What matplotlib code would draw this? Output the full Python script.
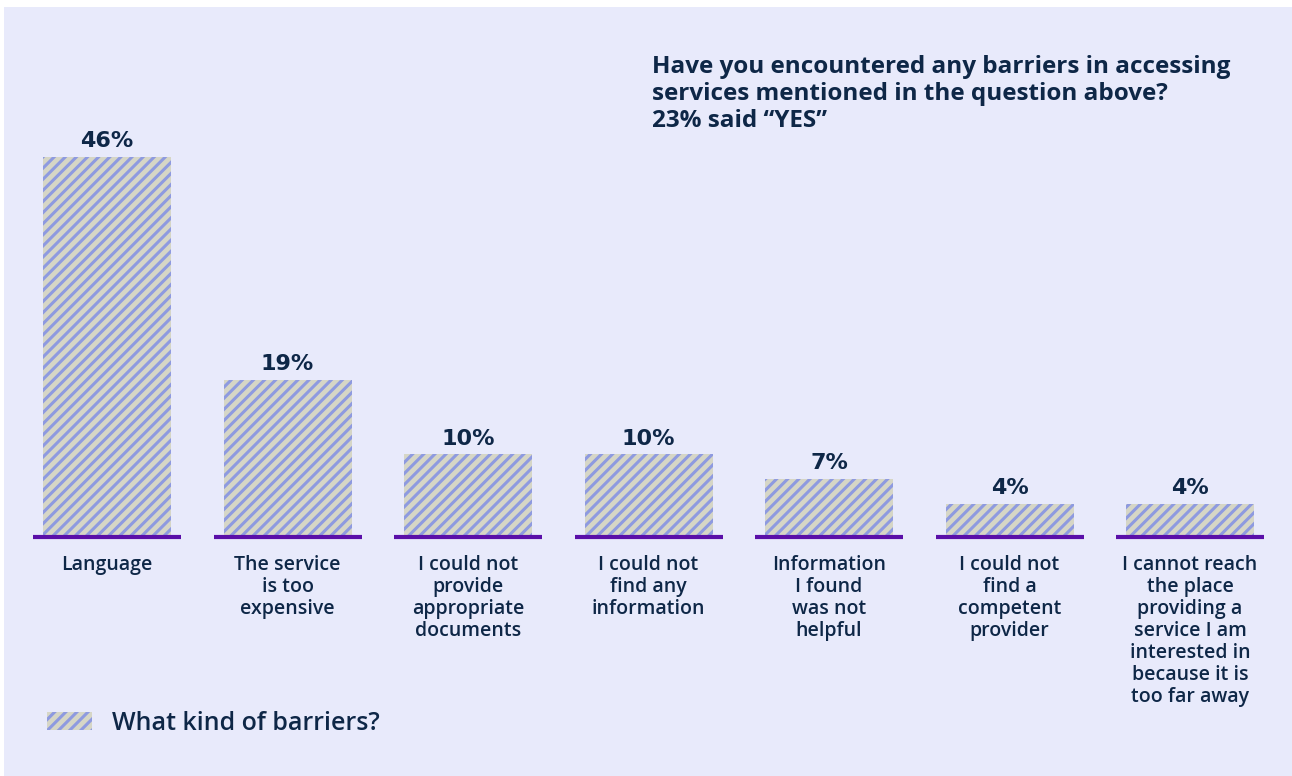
import matplotlib
matplotlib.use("Agg")
import matplotlib.pyplot as plt
from matplotlib.patches import Rectangle

# ----------------- Data -----------------
categories = [
    "Language",
    "The service\nis too\nexpensive",
    "I could not\nprovide\nappropriate\ndocuments",
    "I could not\nfind any\ninformation",
    "Information\nI found\nwas not\nhelpful",
    "I could not\nfind a\ncompetent\nprovider",
    "I cannot reach\nthe place\nproviding a\nservice I am\ninterested in\nbecause it is\ntoo far away",
]
values = [46, 19, 10, 10, 7, 4, 4]
series_name = "What kind of barriers?"
title_lines = [
    "Have you encountered any barriers in accessing",
    "services mentioned in the question above?",
    "23% said \u201cYES\u201d",
]

# ----------------- Style -----------------
BG = "#e8eafb"
BLUE = "#8e9ae0"
BEIGE = "#d6d6c6"
PURPLE = "#5a0fa8"
NAVY = "#0e2747"
W, H, DPI = 1292, 776, 100

plt.rcParams["hatch.linewidth"] = 2.2
plt.rcParams["font.family"] = ["Open Sans", "DejaVu Sans"]

fig = plt.figure(figsize=(W / DPI, H / DPI), dpi=DPI, facecolor="white")
fig.patches.append(Rectangle((4 / W, 0), 1 - 4 / W, 1 - 7 / H,
                             transform=fig.transFigure, facecolor=BG,
                             edgecolor="none", zorder=-10))

# axes cover the whole figure; data coords map to pixels
ax = fig.add_axes([0, 0, 1, 1])
ax.set_facecolor("none")
step = 180.5
x0 = 107
base = 537
scale = 380 / 46
ax.set_xlim(-x0 / step, (W - x0) / step)
ax.set_ylim(-(H - base) / scale, base / scale)
ax.axis("off")

x = list(range(len(values)))
bars = ax.bar(x, values, width=128 / step, color=BEIGE, edgecolor=BLUE,
              hatch="///", linewidth=0, label=series_name, zorder=2)

for i, v in zip(x, values):
    ax.plot([i - 74 / step, i + 74 / step], [0, 0], color=PURPLE, lw=3,
            solid_capstyle="butt", zorder=3)
    ax.annotate(f"{v}%", (i, v), xytext=(0, 7), textcoords="offset points",
                ha="center", va="baseline", fontsize=16, fontweight="bold",
                family="DejaVu Sans", color=NAVY)
    ax.annotate(categories[i], (i, 0), xytext=(0, -13),
                textcoords="offset points", ha="center", va="top",
                fontsize=14, fontweight="semibold", color=NAVY,
                linespacing=1.13)

fig.text(652 / W, 1 - 55 / H, "\n".join(title_lines), ha="left", va="top",
         fontsize=17.5, fontweight="bold", color=NAVY, linespacing=1.16)

leg = fig.legend(handles=[bars], labels=[series_name],
                 loc="center left", bbox_to_anchor=(24 / W, 1 - 723 / H),
                 frameon=False, handlelength=1.8,
                 handleheight=0.76, handletextpad=0.8,
                 prop={"size": 18, "weight": "semibold"})
for t in leg.get_texts():
    t.set_color(NAVY)

fig.savefig("out.png", dpi=DPI, facecolor="white")
